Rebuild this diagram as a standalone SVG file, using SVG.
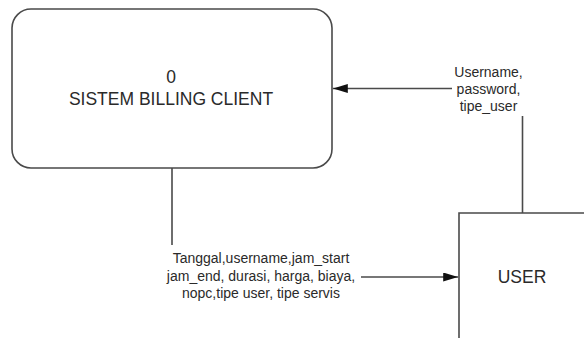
<svg xmlns="http://www.w3.org/2000/svg" width="584" height="338" viewBox="0 0 584 338">
  <style>
    .shape { fill: #ffffff; stroke: #4a4a4a; stroke-width: 1.6; }
    .flow { fill: none; stroke: #4a4a4a; stroke-width: 1.6; }
    .title { font-family: "Liberation Sans", Arial, sans-serif; font-size: 17.5px; fill: #2a2a2a; text-anchor: middle; }
    .label { font-family: "Liberation Sans", Arial, sans-serif; font-size: 14px; fill: #2a2a2a; text-anchor: middle; }
  </style>
  <defs>
    <marker id="arrow" markerWidth="15" markerHeight="9" refX="15" refY="4.5" orient="auto" markerUnits="userSpaceOnUse">
      <path d="M0,0 L15,4.5 L0,9 Z" fill="#111111"/>
    </marker>
  </defs>
  <rect width="584" height="338" fill="#ffffff"/>

  <!-- Process 0 -->
  <g id="process-0">
    <rect class="shape" x="12" y="9" width="320" height="159" rx="19" ry="19"/>
    <text class="title" x="171" y="83">0</text>
    <text class="title" x="171" y="105">SISTEM BILLING CLIENT</text>
  </g>

  <!-- External entity USER -->
  <g id="entity-user">
    <path class="shape" d="M459,340 L459,213 L590,213"/>
    <text class="title" x="522" y="282.5">USER</text>
  </g>

  <!-- Data flows -->
  <g id="connectors">
    <!-- USER to process -->
    <path class="flow" d="M522.5,213 L522.5,116"/>
    <path class="flow" d="M452,88.5 L332.8,88.5" marker-end="url(#arrow)"/>
    <!-- process to USER -->
    <path class="flow" d="M172,168 L172,245"/>
    <path class="flow" d="M361,277 L458.2,277" marker-end="url(#arrow)"/>
  </g>

  <g id="flow-labels">
    <text class="label" x="488.5" y="76.5">Username,</text>
    <text class="label" x="488.5" y="93.5">password,</text>
    <text class="label" x="488.5" y="110.5">tipe_user</text>
    <text class="label" x="261" y="263">Tanggal,username,jam_start</text>
    <text class="label" x="261" y="280.5">jam_end, durasi, harga, biaya,</text>
    <text class="label" x="261" y="298">nopc,tipe user, tipe servis</text>
  </g>
</svg>
